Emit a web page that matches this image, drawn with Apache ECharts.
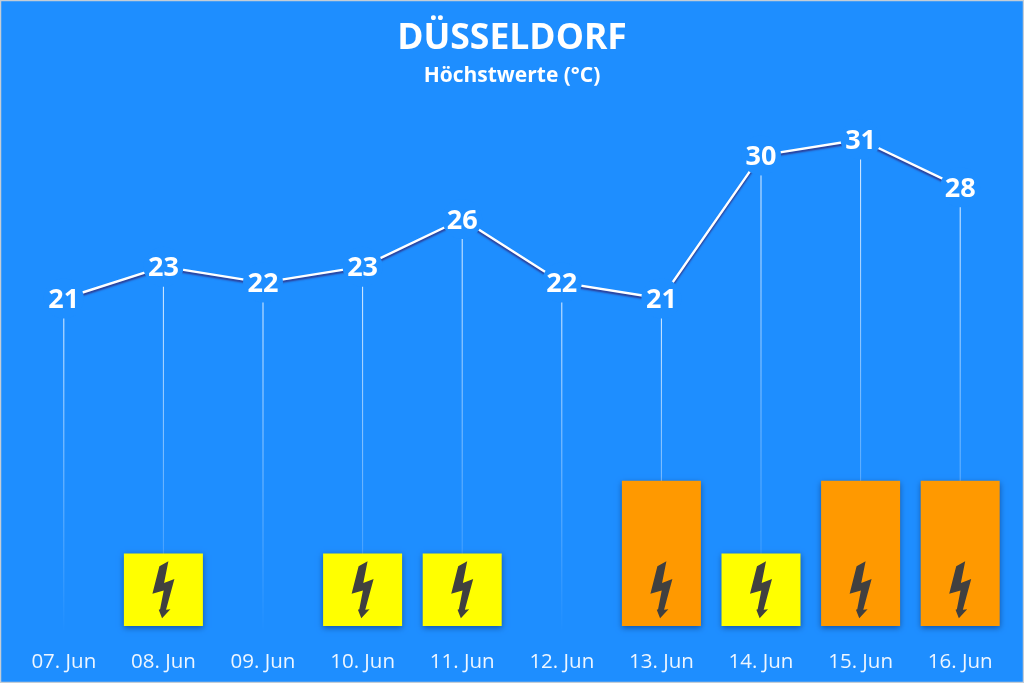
<!DOCTYPE html>
<html>
<head>
<meta charset="utf-8">
<title>Düsseldorf</title>
<script src="https://cdn.jsdelivr.net/npm/echarts@6/dist/echarts.min.js"></script>
<style>
  html, body { margin: 0; padding: 0; background: #1e8eff; }
  #chart { width: 1024px; height: 683px; }
</style>
</head>
<body>
<div id="chart"></div>
<script>
var days = ['07. Jun', '08. Jun', '09. Jun', '10. Jun', '11. Jun', '12. Jun', '13. Jun', '14. Jun', '15. Jun', '16. Jun'];
var highs = [21, 23, 22, 23, 26, 22, 21, 30, 31, 28];
// warning level per day: 0 none, 1 yellow, 2 orange
var warnings = [0, 1, 0, 1, 1, 0, 2, 1, 2, 2];
var warnColors = ['transparent', '#ffff00', '#ff9900'];

var bg = '#1e8eff';
var font = '"Open Sans", "Noto Sans", sans-serif';
var bolt = 'path://M48 0 L21 15 L0 97 L34 87 L23 143 L19 145 L29 170 L54 143 L41 145 L66 53 L35 65 Z';

var chart = echarts.init(document.getElementById('chart'));
chart.setOption({
  animation: false,
  backgroundColor: bg,
  title: [
    {
      text: 'DÜSSELDORF',
      left: 'center',
      top: 16,
      textStyle: { color: '#fff', fontFamily: font, fontSize: 35.5, fontWeight: 'bold' }
    },
    {
      text: 'Höchstwerte (°C)',
      left: 'center',
      top: 61,
      textStyle: { color: '#fff', fontFamily: font, fontSize: 21, fontWeight: 'bold' }
    }
  ],
  grid: { left: 14, right: 14, top: 60, bottom: 57 },
  xAxis: {
    type: 'category',
    data: days,
    axisLine: { show: false },
    axisTick: { show: false },
    axisLabel: { color: '#eef6ff', fontFamily: font, fontSize: 20.5, margin: 26, interval: 0 }
  },
  yAxis: [
    { type: 'value', min: 0.4, max: 36, show: false },
    { type: 'value', min: 0, max: 7.8, show: false }
  ],
  series: [
    {
      // thin drop lines from each value down to the axis
      type: 'pictorialBar',
      data: highs,
      symbol: 'rect',
      symbolSize: [1, '100%'],
      z: 1,
      silent: true,
      itemStyle: {
        color: new echarts.graphic.LinearGradient(0, 0, 0, 1, [
          { offset: 0, color: 'rgba(255,255,255,0.9)' },
          { offset: 1, color: 'rgba(255,255,255,0)' }
        ])
      }
    },
    {
      type: 'bar',
      yAxisIndex: 1,
      barWidth: 79,
      z: 2,
      data: warnings.map(function (w) {
        return {
          value: w,
          itemStyle: {
            color: warnColors[w],
            shadowColor: w ? 'rgba(0,0,40,0.4)' : 'transparent',
            shadowBlur: 6,
            shadowOffsetY: 2
          }
        };
      })
    },
    {
      // lightning icon on every warned day
      type: 'scatter',
      yAxisIndex: 1,
      z: 3,
      symbol: bolt,
      symbolSize: [22, 57],
      symbolKeepAspect: false,
      itemStyle: { color: '#404040', opacity: 1 },
      data: warnings.map(function (w, i) { return w ? [i, 0.5] : null; }).filter(Boolean)
    },
    {
      type: 'line',
      data: highs,
      z: 4,
      symbol: 'circle',
      symbolSize: 40,
      showAllSymbol: true,
      itemStyle: { color: bg, opacity: 1 },
      lineStyle: {
        color: '#fff',
        width: 2.4,
        shadowColor: 'rgba(50,30,110,0.8)',
        shadowBlur: 2,
        shadowOffsetY: 2
      },
      label: {
        show: true,
        position: 'inside',
        offset: [0, 2],
        color: '#fff',
        fontFamily: font,
        fontSize: 27,
        fontWeight: 'bold'
      }
    }
  ],
  graphic: [
    {
      type: 'rect',
      silent: true,
      shape: { x: 0.5, y: 0.5, width: 1023, height: 682 },
      style: { fill: 'none', stroke: '#c4cdd6', lineWidth: 1.5 }
    }
  ]
});
</script>
</body>
</html>
